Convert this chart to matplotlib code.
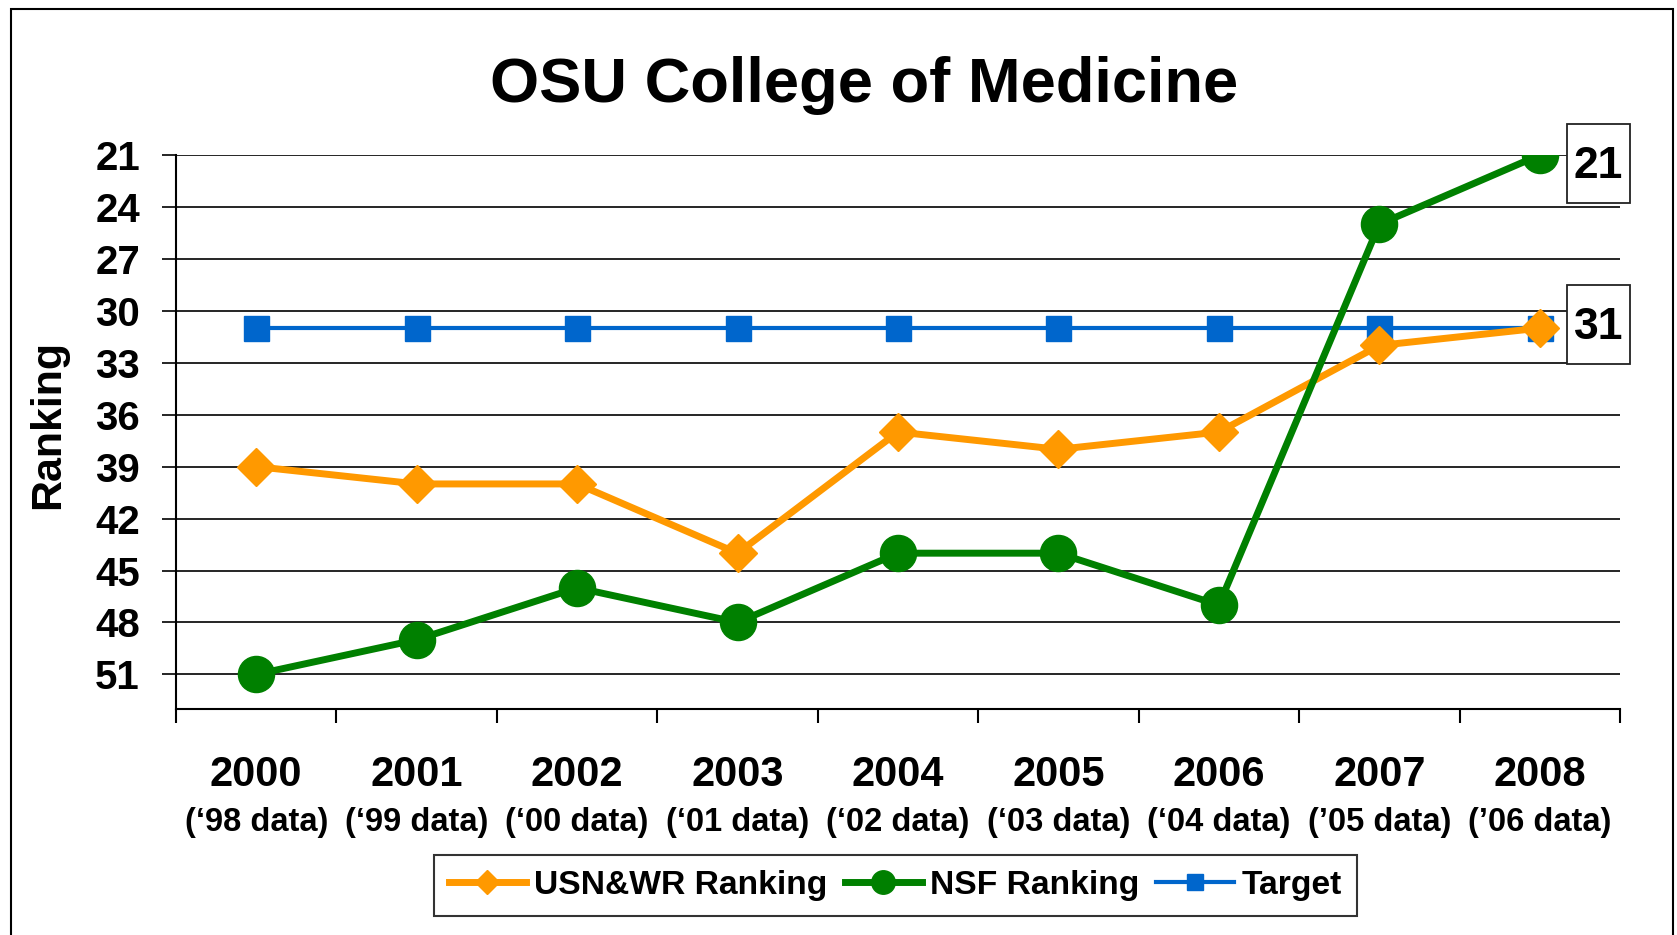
import matplotlib
matplotlib.use('Agg')
import matplotlib.pyplot as plt
from matplotlib.patches import Rectangle
import matplotlib.transforms as mtransforms

years = ['2000', '2001', '2002', '2003', '2004', '2005', '2006', '2007', '2008']
data_years = ['(\u201898 data)', '(\u201899 data)', '(\u201800 data)', '(\u201801 data)',
              '(\u201802 data)', '(\u201803 data)', '(\u201804 data)', '(\u201905 data)',
              '(\u201906 data)']
usnwr = [39, 40, 40, 44, 37, 38, 37, 32, 31]
nsf = [51, 49, 46, 48, 44, 44, 47, 25, 21]
target = [31, 31, 31, 31, 31, 31, 31, 31, 31]
y_ticks = [21, 24, 27, 30, 33, 36, 39, 42, 45, 48, 51]

plt.rcParams['font.family'] = ['Liberation Sans', 'DejaVu Sans']
plt.rcParams['font.weight'] = 'bold'

fig = plt.figure(figsize=(16.77, 9.35), dpi=100)
ax = fig.add_axes([176 / 1677, 1 - 709 / 935, (1620 - 176) / 1677, (709 - 155) / 935])

x = list(range(len(years)))
ax.plot(x, target, color='#0066CC', lw=3, marker='s', ms=18, label='Target', zorder=3)
ax.plot(x, usnwr, color='#FF9900', lw=5, marker='D', ms=19, label='USN&WR Ranking', zorder=4)
ax.plot(x, nsf, color='#008000', lw=5, marker='o', ms=26, label='NSF Ranking', zorder=5)

ax.set_xlim(-0.5, len(years) - 0.5)
ax.set_ylim(53, 21)
ax.set_yticks(y_ticks)
ax.yaxis.grid(True, color='black', lw=1.2)
ax.set_axisbelow(True)
ax.tick_params(axis='y', labelsize=29, length=10, width=1.2, pad=16, direction='out')
for s in ['top', 'right']:
    ax.spines[s].set_visible(False)
for s in ['left', 'bottom']:
    ax.spines[s].set_linewidth(1.5)

# category ticks between the years, labels at the centres
ax.set_xticks(x)
ax.set_xticklabels(years)
ax.set_xticks([i - 0.5 for i in range(len(years) + 1)], minor=True)
ax.tick_params(axis='x', which='major', length=0, labelsize=30, pad=33)
ax.tick_params(axis='x', which='minor', length=10, width=1.5, direction='out')

trans = mtransforms.blended_transform_factory(ax.transData, ax.transAxes)
for i, lab in enumerate(data_years):
    ax.text(i, -0.205, lab, transform=trans, ha='center', va='center', fontsize=23.5)

ax.set_ylabel('Ranking', fontsize=31, fontweight='bold')
ax.yaxis.set_label_coords(-0.075, 0.513)

# value labels on the last points (box size in inches, offset from the point)
for val in [nsf[-1], usnwr[-1]]:
    dy = -0.48 if val == nsf[-1] else -0.354
    t = fig.dpi_scale_trans + mtransforms.ScaledTranslation(x[-1], val, ax.transData)
    ax.add_patch(Rectangle((0.27, dy), 0.63, 0.79, transform=t, fc='white',
                           ec='#222222', lw=1.3, clip_on=False, zorder=6))
    ax.text(0.27 + 0.315, dy + 0.36, f'{val}', transform=t, ha='center', va='center',
            fontsize=32, zorder=7)

fig.text(0.515, 0.909, 'OSU College of Medicine', ha='center', va='center', fontsize=45.5)

handles, labels = ax.get_legend_handles_labels()
order = [1, 2, 0]
leg = fig.legend([handles[i] for i in order], [labels[i] for i in order],
                 loc='center', bbox_to_anchor=(0.534, 0.053), ncol=3, fontsize=24.2,
                 frameon=True, fancybox=False, edgecolor='black', markerscale=0.65,
                 handlelength=2.3, handletextpad=0.25, columnspacing=0.5,
                 borderpad=0.45, borderaxespad=0)
leg.get_frame().set_linewidth(1.5)

fig.patches.append(Rectangle((11 / 1677, -0.01), (1673 - 11) / 1677, 1.01 - 9 / 935,
                             transform=fig.transFigure, fill=False, ec='black', lw=1.5))

fig.savefig('out.png', dpi=100)
